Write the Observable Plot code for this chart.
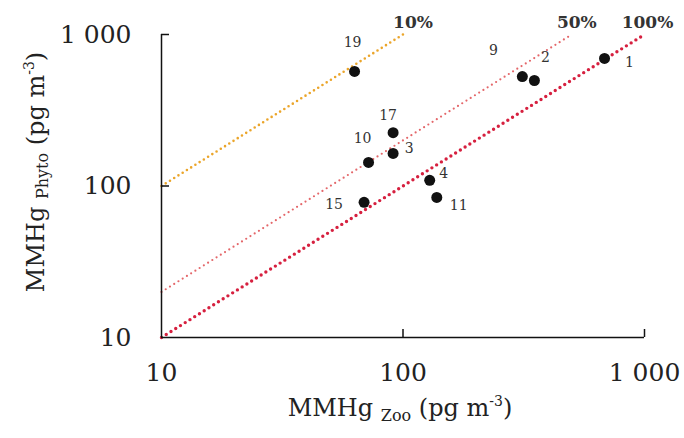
<!DOCTYPE html>
<html><head><meta charset="utf-8">
<script src="https://cdn.jsdelivr.net/npm/d3@7"></script>
<script src="https://cdn.jsdelivr.net/npm/@observablehq/plot@0.6"></script>
<style>body{margin:0;background:#fff}</style>
</head><body><div id="chart"></div>
<script>
// Station data (pg m-3)
const stationIds = ["1", "2", "9", "19", "17", "3", "10", "4", "11", "15"];
const mmhgZoo    = [683, 350, 312, 63, 91, 91, 72, 129, 138, 69];
const mmhgPhyto  = [695, 497, 528, 570, 225, 164, 143, 109, 84, 78];

// Reference lines: percent label, Phyto/Zoo ratio, first and last Zoo value
const lineNames  = ["10%", "50%", "100%"];
const lineRatios = [10, 2, 1];
const lineStart  = [10, 10, 10];
const lineEnd    = [100, 500, 1000];

const axisTicks = [10, 100, 1000];

// layout (pixel offsets, not data)
const labelDx = [25, 11, -29, -2, -5, 16, -6, 14, 22, -30];
const labelDy = [4, -23, -26, -29, -17, -5, -24, -7, 8, 2];
const lineColors = ["#eba52a", "#e4676a", "#d6203f"];
const lineWidths = [2.6, 2.2, 3.4];
const lineDash   = ["0 5", "0 5", "0 5.6"];
const pctDx = [10, 5, 3];

const fmt = d => d === 1000 ? "1 000" : String(d);
const points = stationIds.map((id, i) => ({id, zoo: mmhgZoo[i], phyto: mmhgPhyto[i]}));

const W = 684, H = 438;
const mL = 161, mR = 40, mT = 34, mB = 101;
const fw = W - mL - mR, fh = H - mT - mB;

const marks = [];
lineNames.forEach((name, i) => {
  const seg = [lineStart[i], lineEnd[i]].map(x => ({x, y: x * lineRatios[i]}));
  marks.push(Plot.line(seg, {x: "x", y: "y", stroke: lineColors[i], strokeWidth: lineWidths[i],
    strokeDasharray: lineDash[i], strokeLinecap: "round"}));
  marks.push(Plot.text([seg[1]], {x: "x", y: "y", text: () => name, dx: pctDx[i], dy: -12,
    fontWeight: "bold", fontSize: 17, fill: "#333"}));
});
marks.push(Plot.ruleX([10], {stroke: "#111", strokeWidth: 1.5}));
marks.push(Plot.ruleY([10], {stroke: "#111", strokeWidth: 1.5}));
marks.push(Plot.tickX([100, 1000], {x: d => d, insetTop: fh - 8, stroke: "#111", strokeWidth: 1.5}));
marks.push(Plot.tickY([100, 1000], {y: d => d, insetRight: fw - 8, stroke: "#111", strokeWidth: 1.5}));
marks.push(Plot.axisX(axisTicks, {tickSize: 0, tickPadding: 26, tickFormat: fmt, fontSize: 25, fill: "#222"}));
marks.push(Plot.axisY(axisTicks, {tickSize: 0, tickPadding: 30, tickFormat: fmt, fontSize: 25, fill: "#222"}));
marks.push(Plot.dot(points, {x: "zoo", y: "phyto", r: 5.5, fill: "#111", stroke: "none"}));
points.forEach((p, i) => {
  marks.push(Plot.text([p], {x: "zoo", y: "phyto", text: "id", dx: labelDx[i], dy: labelDy[i],
    fontSize: 14, fill: "#333"}));
});

const chart = Plot.plot({
  width: W, height: H,
  marginLeft: mL, marginRight: mR, marginTop: mT, marginBottom: mB,
  x: {type: "log", domain: [10, 1000], label: null},
  y: {type: "log", domain: [10, 1000], label: null},
  style: {fontFamily: "'DejaVu Serif', serif", background: "#fff", overflow: "visible"},
  marks
});
document.getElementById("chart").appendChild(chart);

const svg = d3.select(chart);
const xt = svg.append("text").attr("x", 400).attr("y", 416).attr("text-anchor", "middle")
  .attr("font-family", "'DejaVu Serif', serif").attr("fill", "#222");
xt.append("tspan").attr("font-size", 24).text("MMHg ");
xt.append("tspan").attr("font-size", 16).attr("dy", 5).text("Zoo");
xt.append("tspan").attr("font-size", 24).attr("dy", -5).text(" (pg m");
xt.append("tspan").attr("font-size", 14).attr("dy", -10).text("-3");
xt.append("tspan").attr("font-size", 24).attr("dy", 10).text(")");

const yt = svg.append("text").attr("transform", "translate(44,172) rotate(-90)").attr("text-anchor", "middle")
  .attr("font-family", "'DejaVu Serif', serif").attr("fill", "#222");
yt.append("tspan").attr("font-size", 24).text("MMHg ");
yt.append("tspan").attr("font-size", 16).attr("dy", 4).text("Phyto");
yt.append("tspan").attr("font-size", 24).attr("dy", -4).text(" (pg m");
yt.append("tspan").attr("font-size", 14).attr("dy", -10).text("-3");
yt.append("tspan").attr("font-size", 24).attr("dy", 10).text(")");
</script>
</body></html>
